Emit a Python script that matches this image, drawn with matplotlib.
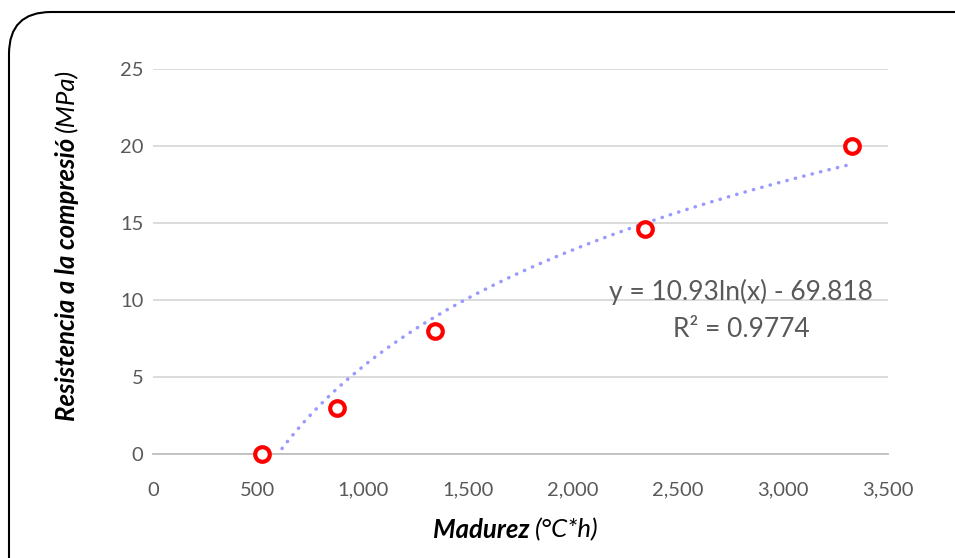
import matplotlib
matplotlib.use('Agg')
import matplotlib.pyplot as plt
from matplotlib.patches import FancyBboxPatch
from matplotlib.ticker import FuncFormatter
import numpy as np

# data
madurez = [519, 876, 1343, 2343, 3329]
resistencia = [0, 3, 8, 14.6, 20]
# Excel log trendline coefficients
coef_a = 10.93
coef_b = -69.818
eq_text = 'y = 10.93ln(x) - 69.818'
r2_text = 'R² = 0.9774'

plt.rcParams['font.family'] = ['Lato', 'DejaVu Sans']
grey = '#595959'

fig = plt.figure(figsize=(9.55, 5.58), dpi=100)
ax = fig.add_axes([153/955, 1 - 454/558, (888 - 153)/955, (454 - 69)/558])

# rounded chart border
border = FancyBboxPatch((0.09, -0.6), 10.2, 5.46 + 0.6,
                        boxstyle='round,pad=0,rounding_size=0.42',
                        transform=fig.dpi_scale_trans, fill=False,
                        edgecolor='black', linewidth=1.5, clip_on=False)
fig.patches.append(border)

# trendline
xt = np.linspace(min(madurez), max(madurez), 400)
yt = coef_a * np.log(xt) + coef_b
ax.plot(xt, yt, color='#9999ff', linewidth=2.5, linestyle=(0, (0.1, 2.4)),
        dash_capstyle='round', zorder=2)

ax.plot(madurez, resistencia, linestyle='none', marker='o', markersize=10.5,
        markerfacecolor='white', markeredgecolor='#ff0000', markeredgewidth=3,
        zorder=3, clip_on=False)

ax.set_xlim(0, 3500)
ax.set_ylim(0, 25)
ax.set_xticks(np.arange(0, 3501, 500))
ax.set_yticks(np.arange(0, 26, 5))
ax.xaxis.set_major_formatter(FuncFormatter(lambda v, p: f'{int(v):,}'))
ax.grid(axis='y', color='#d9d9d9', linewidth=1.3)
ax.set_axisbelow(True)
for s in ['top', 'right', 'left']:
    ax.spines[s].set_visible(False)
ax.spines['bottom'].set_color('#bfbfbf')
ax.spines['bottom'].set_linewidth(1.3)
ax.tick_params(length=0, labelsize=14.5, labelcolor=grey)
ax.tick_params(axis='x', pad=20)
ax.tick_params(axis='y', pad=7)

# trendline equation
ax.text(0.80, 0.42, eq_text, transform=ax.transAxes, ha='center', va='center',
        fontsize=19, color=grey)
ax.text(0.80, 0.323, r2_text, transform=ax.transAxes, ha='center', va='center',
        fontsize=19, color=grey)

# axis titles with mixed weight
fig.text(529/955, 1 - 530/558, 'Madurez', ha='right', va='center', fontsize=18.5,
         fontweight='bold', fontstyle='italic')
fig.text(535/955, 1 - 530/558, '(°C*h)', ha='left', va='center', fontsize=18.5,
         fontstyle='italic')
fig.text(67/955, 1 - 138/558, 'Resistencia a la compresió', ha='center', va='top',
         rotation=90, fontsize=18.5, fontweight='bold', fontstyle='italic')
fig.text(67/955, 1 - 132/558, '(MPa)', ha='center', va='bottom',
         rotation=90, fontsize=18.5, fontstyle='italic')

fig.savefig('out.png', dpi=100)
